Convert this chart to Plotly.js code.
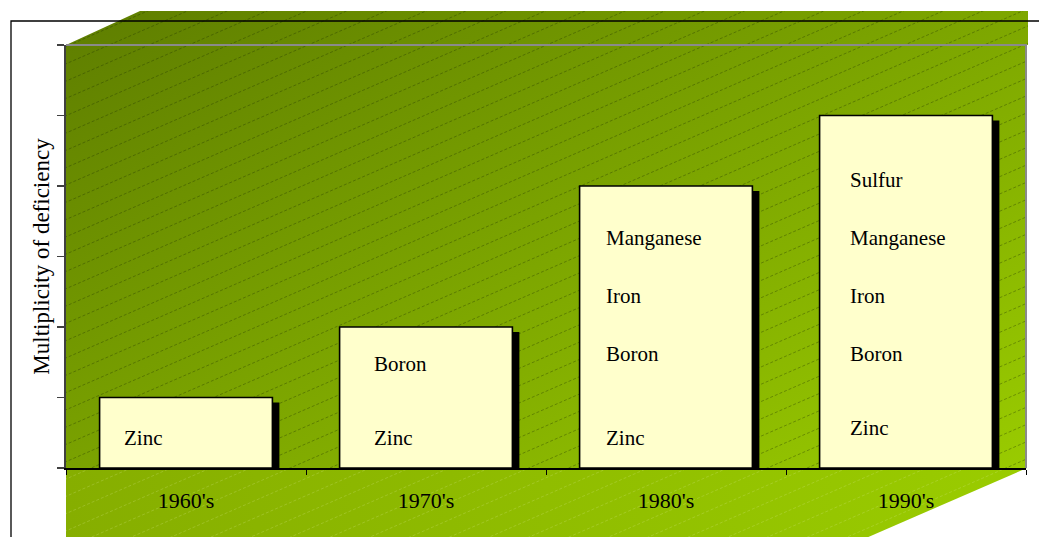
<!DOCTYPE html>
<html>
<head>
<meta charset="utf-8">
<script src="https://cdn.plot.ly/plotly-3.0.1.min.js"></script>
<style>
html,body{margin:0;padding:0;background:#fff;}
#chart{width:1039px;height:537px;}
#chart .annotation-text, #chart .annotation-text tspan{font-family:'Liberation Serif','Times New Roman',serif !important;}
</style>
</head>
<body>
<div id="chart"></div>
<script>
// ---- data ----
const decades = ["1960's", "1970's", "1980's", "1990's"];
const multiplicity = [1, 2, 4, 5];
const deficient1960s = ["Zinc"];
const deficient1970s = ["Zinc", "Boron"];
const deficient1980s = ["Zinc", "Boron", "Iron", "Manganese"];
const deficient1990s = ["Zinc", "Boron", "Iron", "Manganese", "Sulfur"];
const deficientByDecade = [deficient1960s, deficient1970s, deficient1980s, deficient1990s];
const yTitle = "Multiplicity of deficiency";

// ---- layout constants (pixels of the 1039x537 page) ----
const W = 1039, H = 537;
const M = {l: 66, r: 13, t: 45, b: 69};
const plotW = W - M.l - M.r, plotH = H - M.t - M.b;
const yMax = 6;
const unitPx = plotH / yMax;
const catPx = plotW / decades.length;
const SERIF = 'Liberation Serif';
// label text-box placement inside each bar (style, not data)
const labelInsetPx = [22, 32, 24, 28];
const labelNudgePx = [[0], [0, -10], [0, 0, 0, 0], [10, 0, 0, 0, 0]];

// ---- backdrop (3D-style walls) as an SVG image ----
function backdrop() {
  const L = M.l, R = W - M.r, T = M.t, B = H - M.b;
  const wallTop = `M${L},${T} L${L + 74},11 L${R + 2},11 L${R + 2},${T} L${R},${T} L${R},${B} L${L},${B} Z`;
  const slope = 0.435;
  const floor = `M${L},${B} L${R + 1},${B} L${R + 1 - (H - B + 2) / slope},${H + 2} L${L},${H + 2} Z`;
  let lines = '';
  for (let k = -2; k < 62; k++) {
    const b = k * 17.3 + 6;
    lines += `<line x1="0" y1="${b}" x2="${W}" y2="${b - slope * W}"/>`;
  }
  return `<svg xmlns="http://www.w3.org/2000/svg" width="${W}" height="${H}" viewBox="0 0 ${W} ${H}">
<defs>
<linearGradient id="g" gradientUnits="userSpaceOnUse" x1="66" y1="45" x2="464" y2="781">
<stop offset="0" stop-color="#608000"/><stop offset="1" stop-color="#9acc00"/>
</linearGradient>
<linearGradient id="gf" gradientUnits="userSpaceOnUse" x1="66" y1="500" x2="1026" y2="500">
<stop offset="0" stop-color="#86ae00"/><stop offset="1" stop-color="#9acc00"/>
</linearGradient>
<clipPath id="cw"><path d="${wallTop}"/></clipPath>
<clipPath id="cf"><path d="${floor}"/></clipPath>
</defs>
<path d="${wallTop}" fill="url(#g)"/>
<path d="${floor}" fill="url(#gf)"/>
<g clip-path="url(#cw)" stroke="rgba(30,50,0,0.45)" stroke-width="0.8" stroke-dasharray="3,2">${lines}</g>
<g clip-path="url(#cf)" stroke="rgba(220,240,150,0.3)" stroke-width="0.8" stroke-dasharray="3,2">${lines}</g>
<path d="M${L},${T} L${R},${T} L${R},${B}" fill="none" stroke="#8a8a8a" stroke-width="2"/>
<path d="M11,${H} L11,21 L${W},21" fill="none" stroke="#000" stroke-width="1.3"/>
</svg>`;
}

// ---- traces ----
const barW = 0.72;
const shadowDx = 7 / catPx, shadowDy = 5 / unitPx;
const shadow = {
  type: 'bar', x: decades, y: multiplicity.map(v => v - shadowDy),
  width: barW, offset: -barW / 2 + shadowDx,
  marker: {color: '#000', line: {width: 0}},
  hoverinfo: 'skip', showlegend: false
};
const bars = {
  type: 'bar', x: decades, y: multiplicity,
  width: barW, offset: -barW / 2,
  marker: {color: '#ffffcc', line: {color: '#000', width: 1.6}},
  hoverinfo: 'skip', showlegend: false
};

// ---- labels inside bars ----
const annotations = [];
deficientByDecade.forEach((list, i) => {
  list.forEach((name, j) => {
    annotations.push({
      x: i - barW / 2 + labelInsetPx[i] / catPx,
      y: j === 0 ? 0.43 : 1.62 + (j - 1) * 0.823,
      yshift: labelNudgePx[i][j],
      xref: 'x', yref: 'y', text: name, showarrow: false,
      xanchor: 'left', yanchor: 'middle',
      font: {family: SERIF, size: 21, color: '#000'}
    });
  });
});

const layout = {
  width: W, height: H,
  margin: M,
  font: {family: SERIF, color: '#000'},
  paper_bgcolor: 'rgba(0,0,0,0)', plot_bgcolor: 'rgba(0,0,0,0)',
  barmode: 'overlay', showlegend: false,
  xaxis: {
    type: 'category', range: [-0.5, decades.length - 0.5],
    showline: true, linecolor: '#000', linewidth: 1.5,
    ticks: 'outside', tickson: 'boundaries', ticklen: 5, tickcolor: '#000', tickwidth: 1,
    showgrid: false, zeroline: false,
    tickfont: {family: SERIF, size: 22, color: '#000'},
    ticklabelstandoff: 12, fixedrange: true
  },
  yaxis: {
    range: [0, yMax], dtick: 1, tick0: 0,
    showline: true, linecolor: '#404040', linewidth: 2,
    ticks: 'outside', ticklen: 7, tickcolor: '#404040', tickwidth: 1.5,
    showgrid: false, zeroline: false, showticklabels: false,
    title: {text: yTitle, standoff: 1, font: {family: SERIF, size: 23, color: '#000'}},
    fixedrange: true
  },
  annotations: annotations,
  images: [{
    source: 'data:image/svg+xml;charset=utf-8,' + encodeURIComponent(backdrop()),
    xref: 'paper', yref: 'paper',
    x: -M.l / plotW, y: 1 + M.t / plotH,
    sizex: W / plotW, sizey: H / plotH,
    xanchor: 'left', yanchor: 'top', sizing: 'stretch', layer: 'below'
  }]
};

Plotly.newPlot('chart', [shadow, bars], layout, {displayModeBar: false, staticPlot: true});
</script>
</body>
</html>
